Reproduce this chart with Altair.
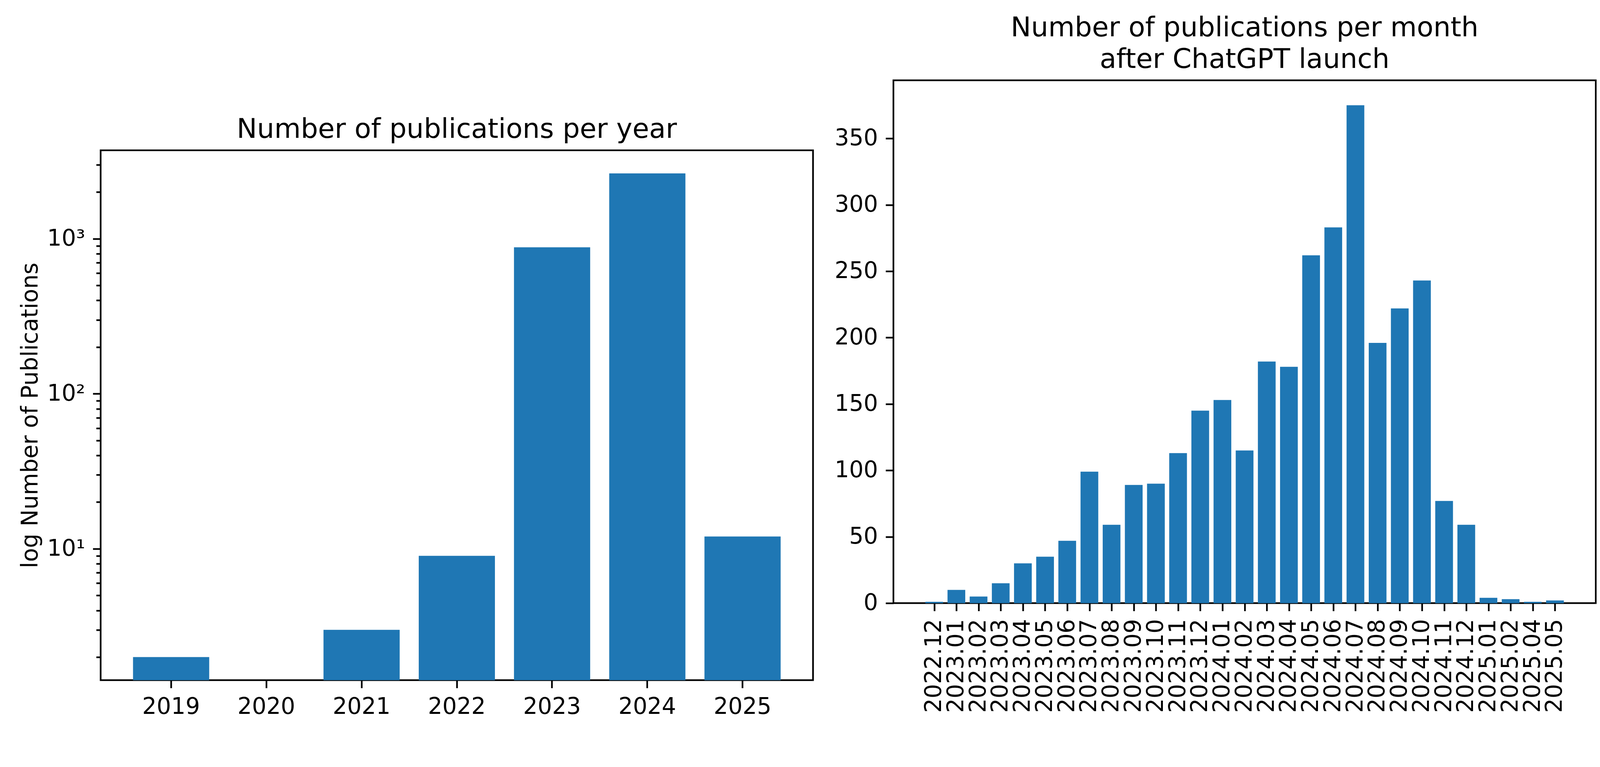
import altair as alt
import pandas as pd

# ---- data ----
years = ["2019", "2020", "2021", "2022", "2023", "2024", "2025"]
year_counts = [2, 0, 3, 9, 880, 2640, 12]

months = [
    "2022.12",
    "2023.01", "2023.02", "2023.03", "2023.04", "2023.05", "2023.06",
    "2023.07", "2023.08", "2023.09", "2023.10", "2023.11", "2023.12",
    "2024.01", "2024.02", "2024.03", "2024.04", "2024.05", "2024.06",
    "2024.07", "2024.08", "2024.09", "2024.10", "2024.11", "2024.12",
    "2025.01", "2025.02", "2025.04", "2025.05",
]
month_counts = [
    1,
    10, 5, 15, 30, 35, 47,
    99, 59, 89, 90, 113, 145,
    153, 115, 182, 178, 262, 283,
    375, 196, 222, 243, 77, 59,
    4, 3, 1, 2,
]

month_ticks = [0, 50, 100, 150, 200, 250, 300, 350]
log_ticks = [m * 10 ** e for e in range(0, 4) for m in range(1, 10)
             if 1.42 <= m * 10 ** e <= 3720]

FONT = "DejaVu Sans"
BLUE = "#1f77b4"
LABEL = 61
TITLE = 73
LOG_MIN, LOG_MAX = 1.42, 3720

year_df = pd.DataFrame({"year": years, "count": year_counts})
year_df = year_df[year_df["count"] > 0]

month_idx = list(range(len(months)))
month_df = pd.DataFrame({"idx": month_idx, "month": months, "count": month_counts})
month_label_expr = "[" + ",".join("'%s'" % m for m in months) + "][datum.value]"

major_test = "datum.value == 10 || datum.value == 100 || datum.value == 1000"
log_label = ("datum.value == 10 ? '10\u00b9' : datum.value == 100 ? '10\u00b2' : "
             "datum.value == 1000 ? '10\u00b3' : ''")

left = alt.Chart(year_df).mark_bar(color=BLUE).encode(
    x=alt.X("year:N",
            scale=alt.Scale(domain=years, paddingInner=0.2, paddingOuter=0.34),
            axis=alt.Axis(title=None, labelAngle=0)),
    y=alt.Y("count:Q",
            scale=alt.Scale(type="log", domain=[LOG_MIN, LOG_MAX], nice=False),
            axis=alt.Axis(title="log Number of Publications", values=log_ticks,
                          labelExpr=log_label, labelOverlap=False, titlePadding=13,
                          tickSize={"condition": {"test": major_test, "value": 21},
                                    "value": 12})),
    y2=alt.datum(LOG_MIN),
).properties(
    width=1914, height=1424,
    title=alt.TitleParams("Number of publications per year"),
)

spacer = alt.Chart(pd.DataFrame({"v": [0]})).mark_point(opacity=0).encode(
    x=alt.value(0), y=alt.value(0)
).properties(width=10, height=94, view=alt.ViewBackground(stroke=None))

right = alt.Chart(month_df).transform_calculate(
    x0="datum.idx - 0.4", x1="datum.idx + 0.4"
).mark_bar(color=BLUE).encode(
    x=alt.X("x0:Q",
            scale=alt.Scale(domain=[-1.84, len(months) - 1 + 1.84], nice=False, zero=False),
            axis=alt.Axis(title=None, values=month_idx, labelExpr=month_label_expr,
                          labelAngle=-90, labelLimit=0, labelOverlap=False,
                          labelFlush=False)),
    x2="x1:Q",
    y=alt.Y("count:Q",
            scale=alt.Scale(domain=[0, 393.75], nice=False, zero=True),
            axis=alt.Axis(title=None, values=month_ticks)),
    y2=alt.datum(0),
).properties(
    width=1887, height=1405,
    title=alt.TitleParams(["Number of publications per month", "after ChatGPT launch"]),
)

chart = alt.hconcat(
    alt.vconcat(spacer, left, spacing=0),
    right,
    spacing=52,
).properties(
    padding={"left": 40, "top": -18, "right": 0, "bottom": 0},
).configure_axis(
    labelFont=FONT, labelFontSize=LABEL, labelColor="black",
    titleFont=FONT, titleFontSize=LABEL, titleFontWeight="normal", titleColor="black",
    titlePadding=24, labelPadding=21,
    tickColor="black", tickWidth=4.5, tickSize=21,
    domain=False, grid=False,
).configure_view(
    stroke="black", strokeWidth=4.5,
).configure_title(
    font=FONT, fontSize=TITLE, fontWeight="normal", color="black",
    offset=18, lineHeight=85,
)

chart.save("out.html", embed_options={"renderer": "svg", "actions": False})
